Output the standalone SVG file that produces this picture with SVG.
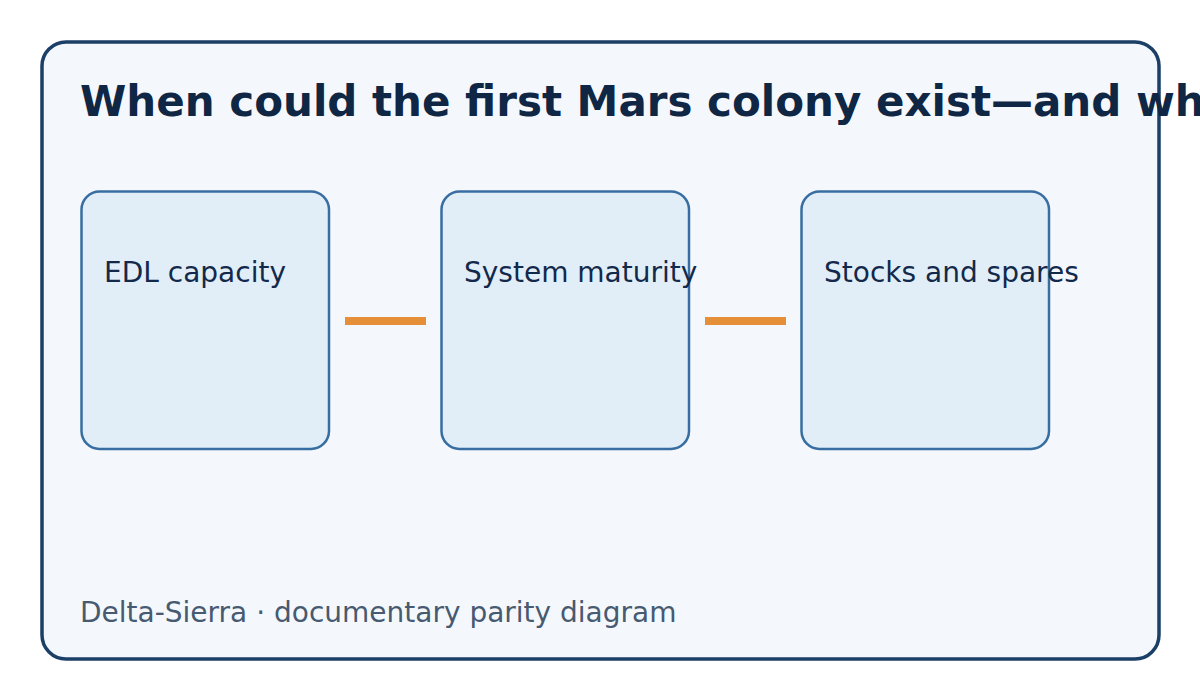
<svg xmlns="http://www.w3.org/2000/svg" width="1200" height="700" viewBox="0 0 1200 700">
  <style>
    .frame { fill: #f4f8fd; stroke: #1b3f66; stroke-width: 3.5; }
    .node rect { fill: #e1eef8; stroke: #376da0; stroke-width: 2.5; }
    .label { font-family: "DejaVu Sans", Verdana, sans-serif; font-size: 28px; fill: #13294b; }
    .title { font-family: "DejaVu Sans", Verdana, sans-serif; font-size: 42px; font-weight: bold; fill: #0f2744; }
    .footer { font-family: "DejaVu Sans", Verdana, sans-serif; font-size: 28px; fill: #475a70; }
    .conn { stroke: #e58f38; stroke-width: 8; fill: none; }
  </style>
  <rect class="frame" x="42" y="42" width="1117" height="617" rx="24"/>
  <text class="title" x="80" y="116">When could the first Mars colony exist—and wh</text>
  <g id="connectors">
    <line class="conn" x1="345" y1="321" x2="426" y2="321"/>
    <line class="conn" x1="705" y1="321" x2="786" y2="321"/>
  </g>
  <g id="node-edl" class="node">
    <rect x="81.5" y="191.5" width="247.5" height="257.5" rx="18"/>
    <text class="label" x="104" y="282">EDL capacity</text>
  </g>
  <g id="node-maturity" class="node">
    <rect x="441.5" y="191.5" width="247.5" height="257.5" rx="18"/>
    <text class="label" x="464" y="282">System maturity</text>
  </g>
  <g id="node-stocks" class="node">
    <rect x="801.5" y="191.5" width="247.5" height="257.5" rx="18"/>
    <text class="label" x="824" y="282">Stocks and spares</text>
  </g>
  <text class="footer" x="80" y="622">Delta-Sierra · documentary parity diagram</text>
</svg>
